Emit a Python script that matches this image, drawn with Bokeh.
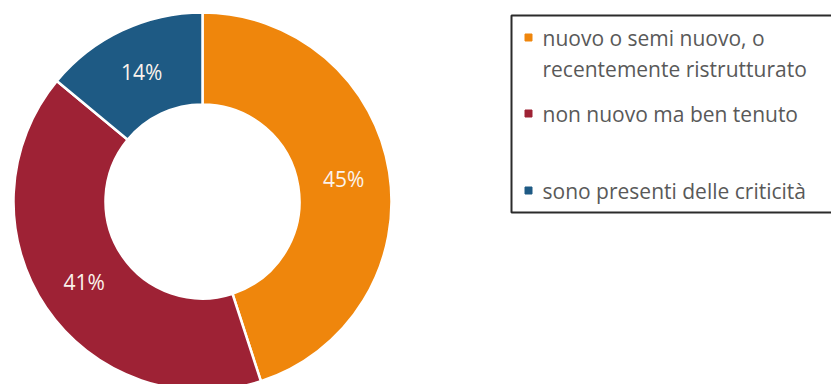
import math
from bokeh.plotting import figure
from bokeh.models import Range1d, ColumnDataSource
from bokeh.core.properties import value
from bokeh.embed import file_html
from bokeh.resources import INLINE

# ---- data ----
categories = ["nuovo o semi nuovo, o\nrecentemente ristrutturato",
              "non nuovo ma ben tenuto",
              "sono presenti delle criticità"]
shares = [45, 41, 14]
labels = ["45%", "41%", "14%"]
colors = ["#EF860C", "#9E2235", "#1E5A84"]

W, H = 831, 384
p = figure(width=W, height=H, x_range=Range1d(0, W), y_range=Range1d(0, H),
           output_backend="svg", toolbar_location=None,
           x_axis_type=None, y_axis_type=None, min_border=0)
p.grid.visible = False
p.outline_line_color = None
p.background_fill_color = "white"
p.border_fill_color = "white"

# ---- donut ----
cx, cy = 202, H - 201
r_out, r_in = 189, 97
total = sum(shares)
starts, ends, lx, ly = [], [], [], []
cum = 0.0
for s in shares:
    a0 = math.pi / 2 - 2 * math.pi * cum / total
    cum += s
    a1 = math.pi / 2 - 2 * math.pi * cum / total
    starts.append(a0)
    ends.append(a1)
    mid = (a0 + a1) / 2
    rm = (r_out + r_in) / 2
    lx.append(cx + rm * math.cos(mid))
    ly.append(cy + rm * math.sin(mid))

src = ColumnDataSource(dict(x=[cx] * len(shares), y=[cy] * len(shares),
                            start=starts, end=ends, color=colors,
                            lx=lx, ly=ly, label=labels))
p.annular_wedge(x="x", y="y", inner_radius=r_in, outer_radius=r_out,
                start_angle="start", end_angle="end", direction="clock",
                fill_color="color", line_color="white", line_width=2.5,
                source=src)
p.text(x="lx", y="ly", text="label", source=src, text_color="#FBF3EC",
       text_font=value("Open Sans"), text_font_size="21px",
       text_align="center", text_baseline="middle")

# ---- legend ----
p.quad(left=511, right=W + 5, bottom=H - 212, top=H - 15,
       fill_color="white", line_color="#2b2b2b", line_width=2)
item_y = [37, 113, 190]
line_gap = 31
mx, tx = 528, 542
for cat, col, yy in zip(categories, colors, item_y):
    p.scatter(x=[mx], y=[H - yy], marker="square", size=7,
              fill_color=col, line_color=col)
    for k, line in enumerate(cat.split("\n")):
        p.text(x=[tx], y=[H - yy - k * line_gap], text=[line],
               text_color="#595959", text_font=value("Open Sans"),
               text_font_size="21px", text_align="left",
               text_baseline="middle")

open("out.html", "w").write(file_html(p, INLINE))
